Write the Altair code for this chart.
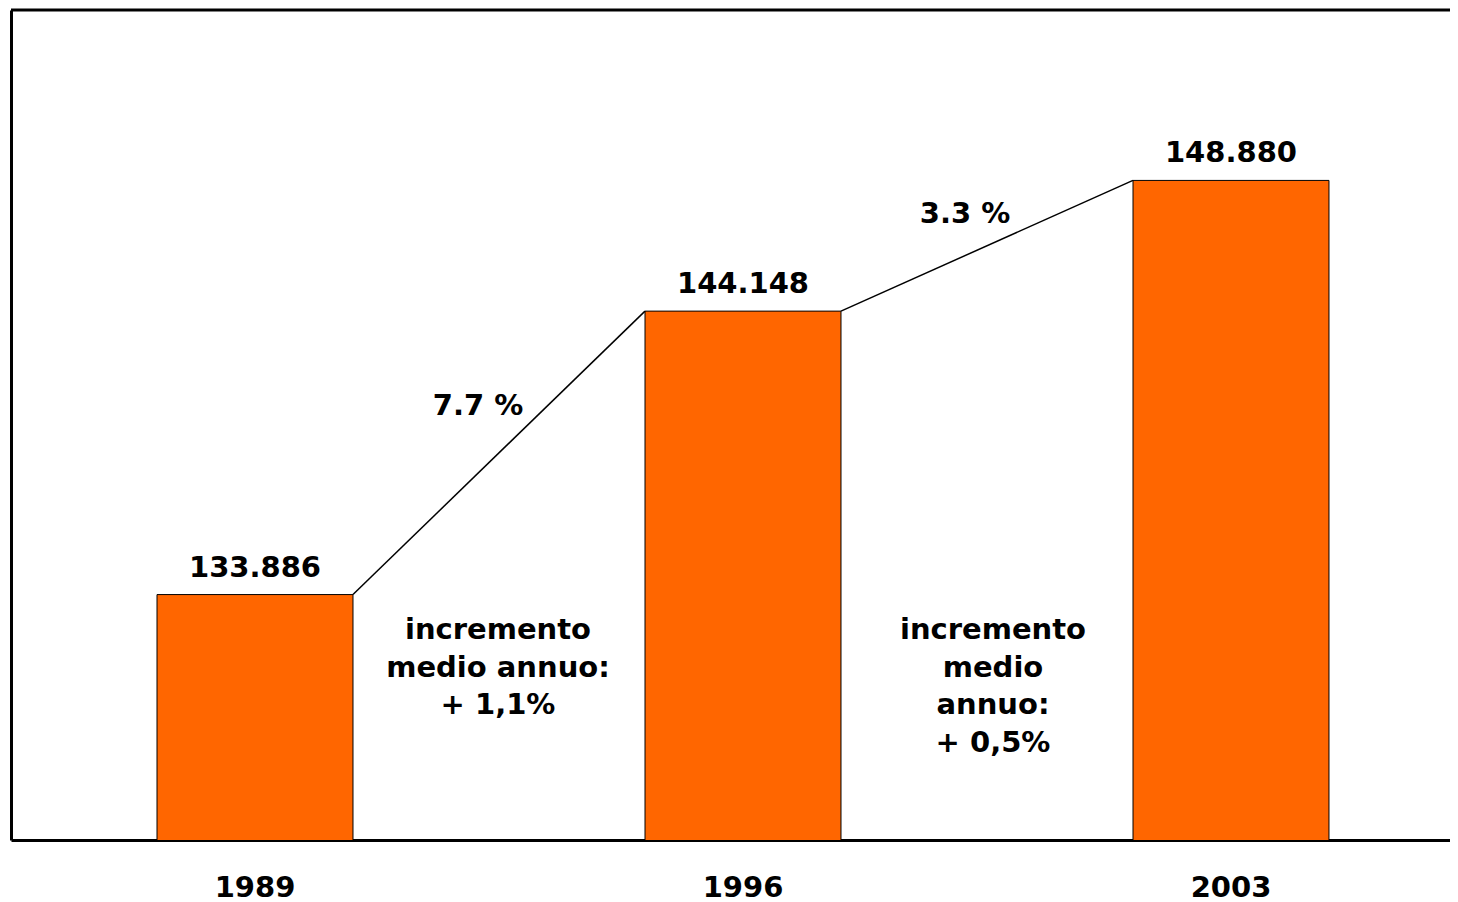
import altair as alt
import pandas as pd

# ---- data ----
years = ["1989", "1996", "2003"]
values = [133886, 144148, 148880]
value_labels = ["133.886", "144.148", "148.880"]

seg_from = ["1989", "1996"]
seg_to = ["1996", "2003"]
seg_from_val = [133886, 144148]
seg_to_val = [144148, 148880]
seg_pct = ["7.7 %", "3.3 %"]
seg_annual = ["incremento\nmedio annuo:\n+ 1,1%", "incremento\nmedio\nannuo:\n+ 0,5%"]

# ---- styling ----
W, H = 1439, 830
FONT = "DejaVu Sans"
ORANGE = "#FF6600"
FS = 29
pct_dy = [-38, -23]
pct_dx = [125, 124]
annual_dx = [145, 152]

bars_df = pd.DataFrame({"year": years, "value": values, "label": value_labels})
seg_df = pd.DataFrame({
    "from": seg_from, "to": seg_to,
    "from_val": seg_from_val, "to_val": seg_to_val,
    "pct": seg_pct, "annual": seg_annual, "idx": [0, 1],
})
frame_df = pd.DataFrame({"k": [0]})

x_scale = alt.Scale(domain=years, paddingInner=0.5984, paddingOuter=0.2736, align=0.5468)
y_scale = alt.Scale(domain=[125000, 155050], zero=False, nice=False)

bars = alt.Chart(bars_df).mark_bar(color=ORANGE, stroke="black", strokeWidth=1, clip=True).encode(
    x=alt.X("year:N", scale=x_scale, sort=years, title=None),
    y=alt.Y("value:Q", scale=y_scale, title=None),
)

value_text = alt.Chart(bars_df).mark_text(
    font=FONT, fontSize=FS, fontWeight="bold", color="black",
    baseline="alphabetic", dy=-18
).encode(
    x=alt.X("year:N", scale=x_scale, sort=years, title=None),
    y=alt.Y("value:Q", scale=y_scale, title=None),
    text="label:N",
)

segments = alt.Chart(seg_df).mark_rule(color="black", strokeWidth=1.5).encode(
    x=alt.X("from:N", scale=x_scale, bandPosition=1, title=None),
    x2=alt.X2("to:N", bandPosition=0),
    y=alt.Y("from_val:Q", scale=y_scale, title=None),
    y2=alt.Y2("to_val:Q"),
)

layers = [bars, segments, value_text]

for i in range(len(seg_from)):
    pct = alt.Chart(seg_df).transform_filter(alt.datum.idx == i).transform_calculate(
        mid="(datum.from_val + datum.to_val) / 2"
    ).mark_text(
        font=FONT, fontSize=FS, fontWeight="bold", color="black",
        baseline="alphabetic", align="center", dx=pct_dx[i], dy=pct_dy[i]
    ).encode(
        x=alt.X("from:N", scale=x_scale, bandPosition=1, title=None),
        y=alt.Y("mid:Q", scale=y_scale, title=None),
        text="pct:N",
    )
    annual = alt.Chart(seg_df).transform_filter(alt.datum.idx == i).mark_text(
        font=FONT, fontSize=FS, fontWeight="bold", color="black",
        baseline="alphabetic", align="center", dx=annual_dx[i],
        lineBreak="\n", lineHeight=37.5
    ).encode(
        x=alt.X("from:N", scale=x_scale, bandPosition=1, title=None),
        y=alt.value(629),
        text="annual:N",
    )
    layers += [pct, annual]

top_rule = alt.Chart(frame_df).mark_rule(color="black", strokeWidth=3).encode(
    x=alt.value(0), x2=alt.value(W), y=alt.value(0)
)
layers.append(top_rule)

chart = alt.layer(*layers).properties(
    width=W, height=H,
    autosize=alt.AutoSizeParams(type="none"),
    padding={"left": 3, "top": 2, "right": 0, "bottom": 62},
).configure_view(stroke=None).configure_axisX(
    labelFont=FONT, labelFontSize=FS, labelFontWeight="bold", labelColor="black",
    labelAngle=0, ticks=False, domainColor="black", domainWidth=3,
    labelPadding=33, grid=False,
).configure_axisY(
    labels=False, ticks=False, domainColor="black", domainWidth=3, grid=False,
)

chart.save("out.html", embed_options={"renderer": "svg", "actions": False})
